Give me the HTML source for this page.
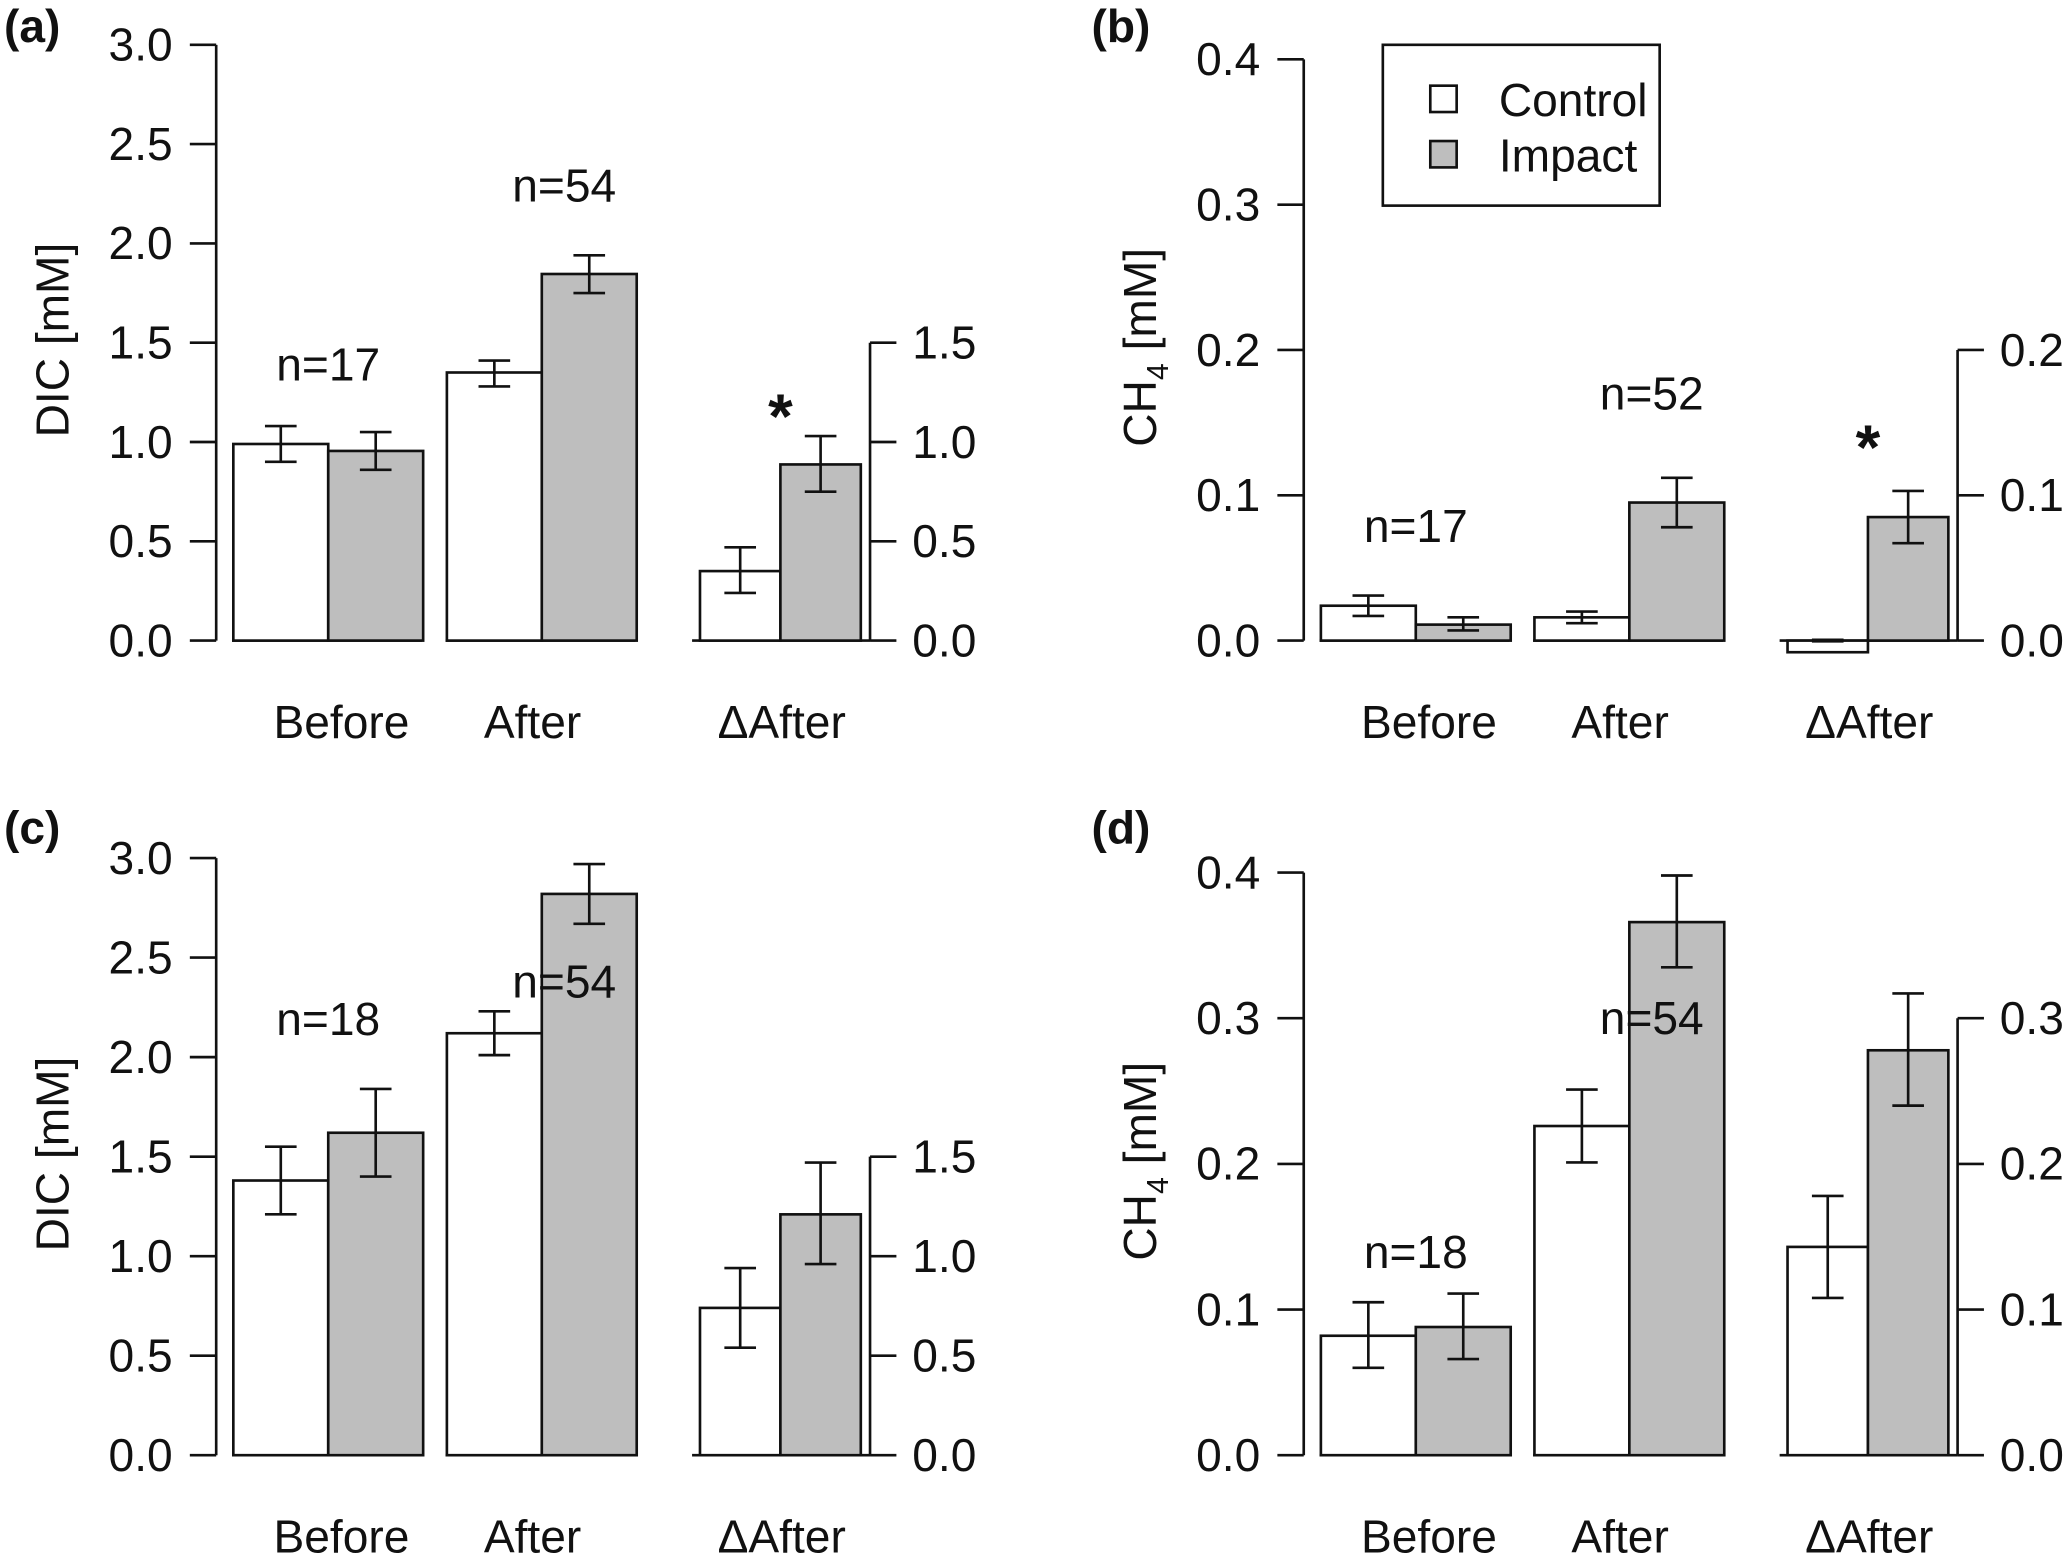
<!DOCTYPE html>
<html><head><meta charset="utf-8"><style>
html,body{margin:0;padding:0;background:#fff;}
svg{display:block;}
text{font-family:"Liberation Sans",Arial,sans-serif;fill:#111;}
</style></head><body>
<svg id="fig" width="2067" height="1558" viewBox="0 0 1568 1182" preserveAspectRatio="none" xmlns="http://www.w3.org/2000/svg"></svg>
<script>
// ---- data ----
const groups = ["Before", "After", "\u0394After"];
const panelIds = ["a", "b", "c", "d"];
const ctrlA = [0.99, 1.35, 0.35];
const ctrlA_lo = [0.90, 1.28, 0.24];
const ctrlA_hi = [1.08, 1.41, 0.47];
const impA = [0.955, 1.846, 0.887];
const impA_lo = [0.86, 1.75, 0.75];
const impA_hi = [1.05, 1.94, 1.03];
const ctrlB = [0.024, 0.016, -0.008];
const ctrlB_lo = [0.017, 0.012, -0.0005];
const ctrlB_hi = [0.031, 0.020, 0.0005];
const impB = [0.011, 0.095, 0.085];
const impB_lo = [0.007, 0.078, 0.067];
const impB_hi = [0.016, 0.112, 0.103];
const ctrlC = [1.38, 2.12, 0.74];
const ctrlC_lo = [1.21, 2.01, 0.54];
const ctrlC_hi = [1.55, 2.23, 0.94];
const impC = [1.62, 2.82, 1.21];
const impC_lo = [1.40, 2.67, 0.96];
const impC_hi = [1.84, 2.97, 1.47];
const ctrlD = [0.082, 0.226, 0.143];
const ctrlD_lo = [0.060, 0.201, 0.108];
const ctrlD_hi = [0.105, 0.251, 0.178];
const impD = [0.088, 0.366, 0.278];
const impD_lo = [0.066, 0.335, 0.240];
const impD_hi = [0.111, 0.398, 0.317];
const ticksDIC = ["0.0","0.5","1.0","1.5","2.0","2.5","3.0"];
const ticksDICright = ["0.0","0.5","1.0","1.5"];
const ticksCH4 = ["0.0","0.1","0.2","0.3","0.4"];
const ticksCH4rightB = ["0.0","0.1","0.2"];
const ticksCH4rightD = ["0.0","0.1","0.2","0.3"];
const nLabelsA = ["n=17", "n=54"];
const nLabelsB = ["n=17", "n=52"];
const nLabelsC = ["n=18", "n=54"];
const nLabelsD = ["n=18", "n=54"];
const nValsA = [1.31, 2.21];
const nValsB = [0.068, 0.159];
const nValsC = [2.11, 2.30];
const nValsD = [0.1285, 0.289];

const svg = document.getElementById('fig');
const NS = 'http://www.w3.org/2000/svg';
function el(tag, attrs, parent){
  const e = document.createElementNS(NS, tag);
  for (const k in attrs) e.setAttribute(k, attrs[k]);
  (parent||svg).appendChild(e);
  return e;
}
function txt(s, x, y, size, anchor, parent, extra){
  const t = el('text', Object.assign({x:x, y:y, 'font-size':size, 'text-anchor':anchor||'middle'}, extra||{}), parent);
  t.textContent = s;
  return t;
}

const panels = [
  {id:'a', dx:0, yTop:34, yBot:486, max:3.0, ticks:ticksDIC, rticks:ticksDICright, ylab:'DIC', ctrl:ctrlA, clo:ctrlA_lo, chi:ctrlA_hi, imp:impA, ilo:impA_lo, ihi:impA_hi, nl:nLabelsA, nv:nValsA, star:1.18, ly:32},
  {id:'b', dx:825, yTop:45, yBot:486, max:0.4, ticks:ticksCH4, rticks:ticksCH4rightB, ylab:'CH4', ctrl:ctrlB, clo:ctrlB_lo, chi:ctrlB_hi, imp:impB, ilo:impB_lo, ihi:impB_hi, nl:nLabelsB, nv:nValsB, star:0.14, legend:true, ly:32},
  {id:'c', dx:0, yTop:651, yBot:1104, max:3.0, ticks:ticksDIC, rticks:ticksDICright, ylab:'DIC', ctrl:ctrlC, clo:ctrlC_lo, chi:ctrlC_hi, imp:impC, ilo:impC_lo, ihi:impC_hi, nl:nLabelsC, nv:nValsC, ly:640},
  {id:'d', dx:825, yTop:662, yBot:1104, max:0.4, ticks:ticksCH4, rticks:ticksCH4rightD, ylab:'CH4', ctrl:ctrlD, clo:ctrlD_lo, chi:ctrlD_hi, imp:impD, ilo:impD_lo, ihi:impD_hi, nl:nLabelsD, nv:nValsD, ly:640}
];

// layout (structure only)
const groupLeft = [177, 339, 531];
const barW = [72, 72, 61];
const xLabOff = [10, -7, 1];
const nLabOff = [0, 17];
const FS = 35;
const lw = 2;

panels.forEach(p => {
  const g = el('g', {});
  
  
  const y = v => p.yBot - v / p.max * (p.yBot - p.yTop);
  const X = x => x + p.dx;

  const pl = txt('(' + p.id + ')', X(3), p.ly, FS, 'start', g, {'font-weight':'bold'});
  
  

  const ax = el('g', {}, g);
  
  
  el('line', {x1:X(164), x2:X(164), y1:y(0), y2:y(p.max), stroke:'#111', 'stroke-width':lw}, ax);
  p.ticks.forEach(t => {
    const v = parseFloat(t);
    el('line', {x1:X(144), x2:X(164), y1:y(v), y2:y(v), stroke:'#111', 'stroke-width':lw}, ax);
    const tl = txt(t, X(131), y(v) + 12, FS, 'end', ax);
    
    
  });
  const ty = (p.yTop + p.yBot) / 2 - 2;
  const yt = el('text', {x:0, y:0, 'font-size':FS, 'text-anchor':'middle', transform:'translate(' + X(52) + ',' + ty + ') rotate(-90)'}, g);
  
  
  if (p.ylab === 'DIC') { yt.textContent = 'DIC [mM]'; }
  else {
    const s1 = el('tspan', {}, yt); s1.textContent = 'CH';
    const s2 = el('tspan', {'font-size':23, dy:9}, yt); s2.textContent = '4';
    const s3 = el('tspan', {dy:-9}, yt); s3.textContent = ' [mM]';
  }

  const rmax = parseFloat(p.rticks[p.rticks.length-1]);
  const rx = el('g', {}, g);
  
  
  el('line', {x1:X(660), x2:X(660), y1:y(0), y2:y(rmax), stroke:'#111', 'stroke-width':lw}, rx);
  p.rticks.forEach(t => {
    const v = parseFloat(t);
    el('line', {x1:X(660), x2:X(680), y1:y(v), y2:y(v), stroke:'#111', 'stroke-width':lw}, rx);
    const tl = txt(t, X(692), y(v) + 12, FS, 'start', rx);
    
    
  });
  el('line', {x1:X(176), x2:X(320), y1:y(0), y2:y(0), stroke:'#111', 'stroke-width':lw}, g);
  el('line', {x1:X(338), x2:X(482), y1:y(0), y2:y(0), stroke:'#111', 'stroke-width':lw}, g);
  el('line', {x1:X(525), x2:X(660), y1:y(0), y2:y(0), stroke:'#111', 'stroke-width':lw}, g);

  groups.forEach((gn, i) => {
    const series = [[p.ctrl, p.clo, p.chi, '#ffffff', 'control'], [p.imp, p.ilo, p.ihi, '#bebebe', 'impact']];
    series.forEach((s, j) => {
      const x0 = X(groupLeft[i] + j * barW[i]);
      const v = s[0][i];
      const yt0 = Math.min(y(v), y(0)), h = Math.abs(y(v) - y(0));
      const r = el('rect', {x:x0, y:yt0, width:barW[i], height:h, fill:s[3], stroke:'#111', 'stroke-width':lw}, g);
      
      
      const cx = x0 + barW[i] / 2;
      const eb = el('g', {}, g);
      
      
      el('line', {x1:cx, x2:cx, y1:y(s[1][i]), y2:y(s[2][i]), stroke:'#111', 'stroke-width':lw}, eb);
      el('line', {x1:cx-12, x2:cx+12, y1:y(s[1][i]), y2:y(s[1][i]), stroke:'#111', 'stroke-width':lw}, eb);
      el('line', {x1:cx-12, x2:cx+12, y1:y(s[2][i]), y2:y(s[2][i]), stroke:'#111', 'stroke-width':lw}, eb);
    });
    const cxg = X(groupLeft[i] + barW[i] + xLabOff[i]);
    const xl = txt(gn, cxg, p.yBot + 74, FS, 'middle', g);
    
    
  });
  p.nl.forEach((s, i) => {
    const t = txt(s, X(groupLeft[i] + barW[i] + nLabOff[i]), y(p.nv[i]), FS, 'middle', g);
    
    
  });
  if (p.star !== undefined) {
    const st = txt('*', X(592), y(p.star) + 24, 48, 'middle', g, {'font-weight':'bold'});
    
    
  }
  if (p.legend) {
    const lg = el('g', {}, g);
    
    
    el('rect', {x:1049, y:34, width:210, height:122, fill:'#fff', stroke:'#111', 'stroke-width':lw}, lg);
    const e1 = el('rect', {x:1085, y:65, width:20, height:20, fill:'#fff', stroke:'#111', 'stroke-width':lw}, lg);
    
    
    const t1 = txt('Control', 1137, 88, FS, 'start', lg);
    
    
    const e2 = el('rect', {x:1085, y:107, width:20, height:20, fill:'#bebebe', stroke:'#111', 'stroke-width':lw}, lg);
    
    
    const t2 = txt('Impact', 1137, 130, FS, 'start', lg);
    
    
  }
});
</script>
</body></html>
